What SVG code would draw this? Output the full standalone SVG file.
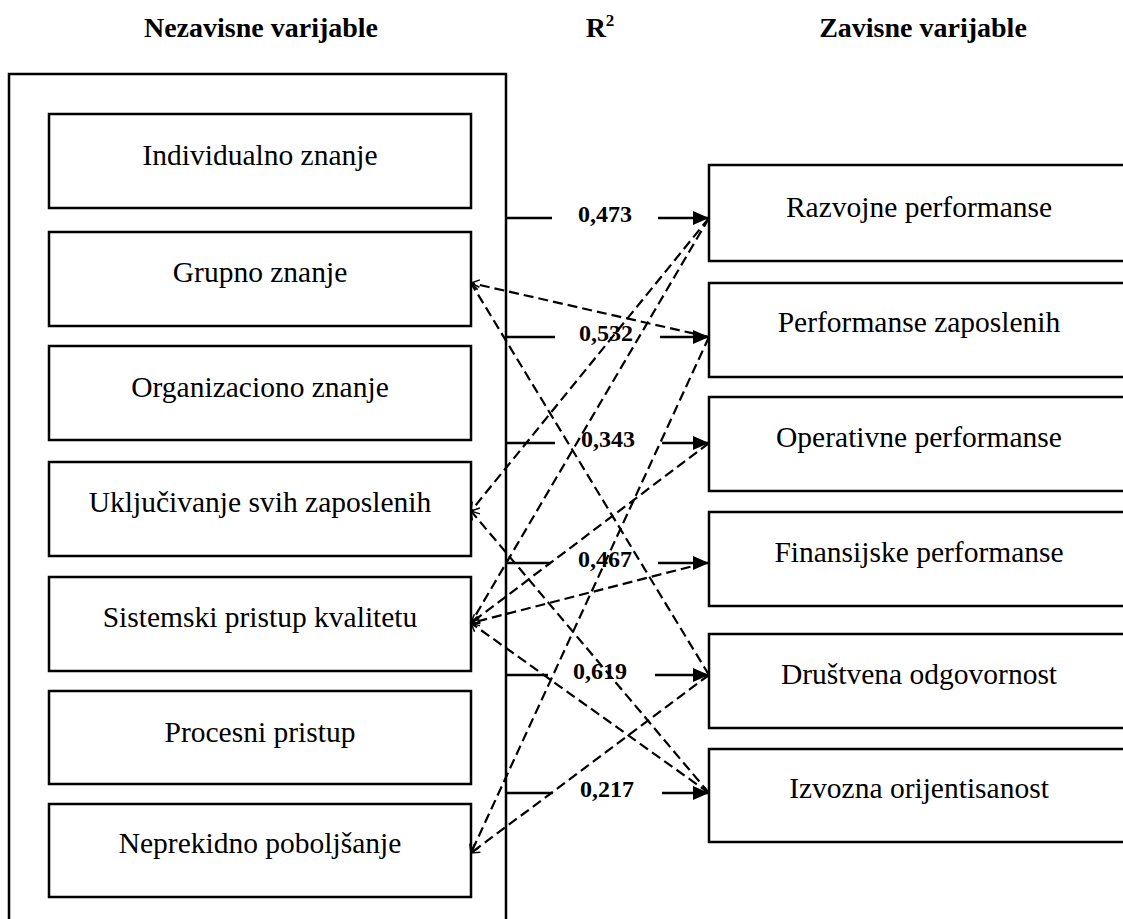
<svg xmlns="http://www.w3.org/2000/svg" width="1123" height="919" viewBox="0 0 1123 919">
<defs>
<marker id="solidArrow" markerUnits="userSpaceOnUse" markerWidth="18" markerHeight="14" refX="16" refY="7" orient="auto">
<path d="M0,0 L16,7 L0,14 Z" fill="#000"/>
</marker>
<marker id="openArrow" markerUnits="userSpaceOnUse" markerWidth="12" markerHeight="12" refX="10" refY="6" orient="auto">
<path d="M2,1 L10,6 L2,11" fill="none" stroke="#000" stroke-width="1.5"/>
</marker>
</defs>
<style>
.box{fill:#fff;stroke:#000;stroke-width:2.5}
.outer{fill:none;stroke:#000;stroke-width:2.5}
.lbl{font-family:"Liberation Serif","Times New Roman",serif;font-size:29.5px;fill:#000;text-anchor:middle}
.hdr{font-family:"Liberation Serif","Times New Roman",serif;font-size:28px;font-weight:bold;fill:#000;text-anchor:middle}
.val{font-family:"Liberation Serif","Times New Roman",serif;font-size:24px;font-weight:bold;fill:#000;text-anchor:middle}
.solid{stroke:#000;stroke-width:2.5;fill:none}
.dash{stroke:#000;stroke-width:2.2;fill:none;stroke-dasharray:10 5}
</style>
<rect width="1123" height="919" fill="#fff"/>
<g id="headers">
<text class="hdr" x="261" y="37">Nezavisne varijable</text>
<text class="hdr" x="600" y="37">R<tspan font-size="17" dy="-11">2</tspan></text>
<text class="hdr" x="923" y="37">Zavisne varijable</text>
</g>
<g id="independent-group">
<rect class="outer" x="9" y="74" width="497" height="860"/>
</g>
<g id="n-individualno"><rect class="box" x="49" y="114" width="422" height="94"/><text class="lbl" x="260" y="165">Individualno znanje</text></g>
<g id="n-grupno"><rect class="box" x="49" y="232" width="422" height="94"/><text class="lbl" x="260" y="282">Grupno znanje</text></g>
<g id="n-organizaciono"><rect class="box" x="49" y="346" width="422" height="94"/><text class="lbl" x="260" y="397">Organizaciono znanje</text></g>
<g id="n-ukljucivanje"><rect class="box" x="49" y="462" width="422" height="94"/><text class="lbl" x="260" y="512">Uključivanje svih zaposlenih</text></g>
<g id="n-sistemski"><rect class="box" x="49" y="577" width="422" height="94"/><text class="lbl" x="260" y="627">Sistemski pristup kvalitetu</text></g>
<g id="n-procesni"><rect class="box" x="49" y="691" width="422" height="93"/><text class="lbl" x="260" y="742">Procesni pristup</text></g>
<g id="n-neprekidno"><rect class="box" x="49" y="804" width="422" height="93"/><text class="lbl" x="260" y="853">Neprekidno poboljšanje</text></g>
<g id="n-razvojne"><rect class="box" x="709" y="165" width="422" height="96"/><text class="lbl" x="919" y="217">Razvojne performanse</text></g>
<g id="n-zaposlenih"><rect class="box" x="709" y="283" width="422" height="94"/><text class="lbl" x="919" y="332">Performanse zaposlenih</text></g>
<g id="n-operativne"><rect class="box" x="709" y="397" width="422" height="94"/><text class="lbl" x="919" y="447">Operativne performanse</text></g>
<g id="n-finansijske"><rect class="box" x="709" y="512" width="422" height="94"/><text class="lbl" x="919" y="562">Finansijske performanse</text></g>
<g id="n-drustvena"><rect class="box" x="709" y="634" width="422" height="94"/><text class="lbl" x="919" y="684">Društvena odgovornost</text></g>
<g id="n-izvozna"><rect class="box" x="709" y="749" width="422" height="93"/><text class="lbl" x="919" y="798">Izvozna orijentisanost</text></g>
<g id="connectors">
<line class="dash" x1="709" y1="337" x2="471" y2="283" marker-end="url(#openArrow)"/>
<line class="dash" x1="709" y1="675" x2="471" y2="283" marker-end="url(#openArrow)"/>
<line class="dash" x1="709" y1="218" x2="471" y2="511" marker-end="url(#openArrow)"/>
<line class="dash" x1="709" y1="793" x2="471" y2="511" marker-end="url(#openArrow)"/>
<line class="dash" x1="709" y1="218" x2="471" y2="623" marker-end="url(#openArrow)"/>
<line class="dash" x1="709" y1="443" x2="471" y2="623" marker-end="url(#openArrow)"/>
<line class="dash" x1="705" y1="563" x2="471" y2="623" marker-end="url(#openArrow)"/>
<line class="dash" x1="709" y1="793" x2="471" y2="623" marker-end="url(#openArrow)"/>
<line class="dash" x1="709" y1="337" x2="471" y2="853" marker-end="url(#openArrow)"/>
<line class="dash" x1="709" y1="675" x2="471" y2="853" marker-end="url(#openArrow)"/>
<line class="solid" x1="507" y1="218" x2="552" y2="218"/>
<line class="solid" x1="658" y1="218" x2="709" y2="218" marker-end="url(#solidArrow)"/>
<text class="val" x="605" y="222">0,473</text>
<line class="solid" x1="507" y1="337" x2="555" y2="337"/>
<line class="solid" x1="660" y1="337" x2="709" y2="337" marker-end="url(#solidArrow)"/>
<text class="val" x="606" y="341">0,532</text>
<line class="solid" x1="507" y1="443" x2="555" y2="443"/>
<line class="solid" x1="662" y1="443" x2="709" y2="443" marker-end="url(#solidArrow)"/>
<text class="val" x="608" y="447">0,343</text>
<line class="solid" x1="507" y1="563" x2="551" y2="563"/>
<line class="solid" x1="658" y1="563" x2="709" y2="563" marker-end="url(#solidArrow)"/>
<text class="val" x="605" y="567">0,467</text>
<line class="solid" x1="507" y1="675" x2="548" y2="675"/>
<line class="solid" x1="655" y1="675" x2="709" y2="675" marker-end="url(#solidArrow)"/>
<text class="val" x="600" y="679">0,619</text>
<line class="solid" x1="507" y1="793" x2="553" y2="793"/>
<line class="solid" x1="662" y1="793" x2="709" y2="793" marker-end="url(#solidArrow)"/>
<text class="val" x="607" y="797">0,217</text>
</g>
</svg>
